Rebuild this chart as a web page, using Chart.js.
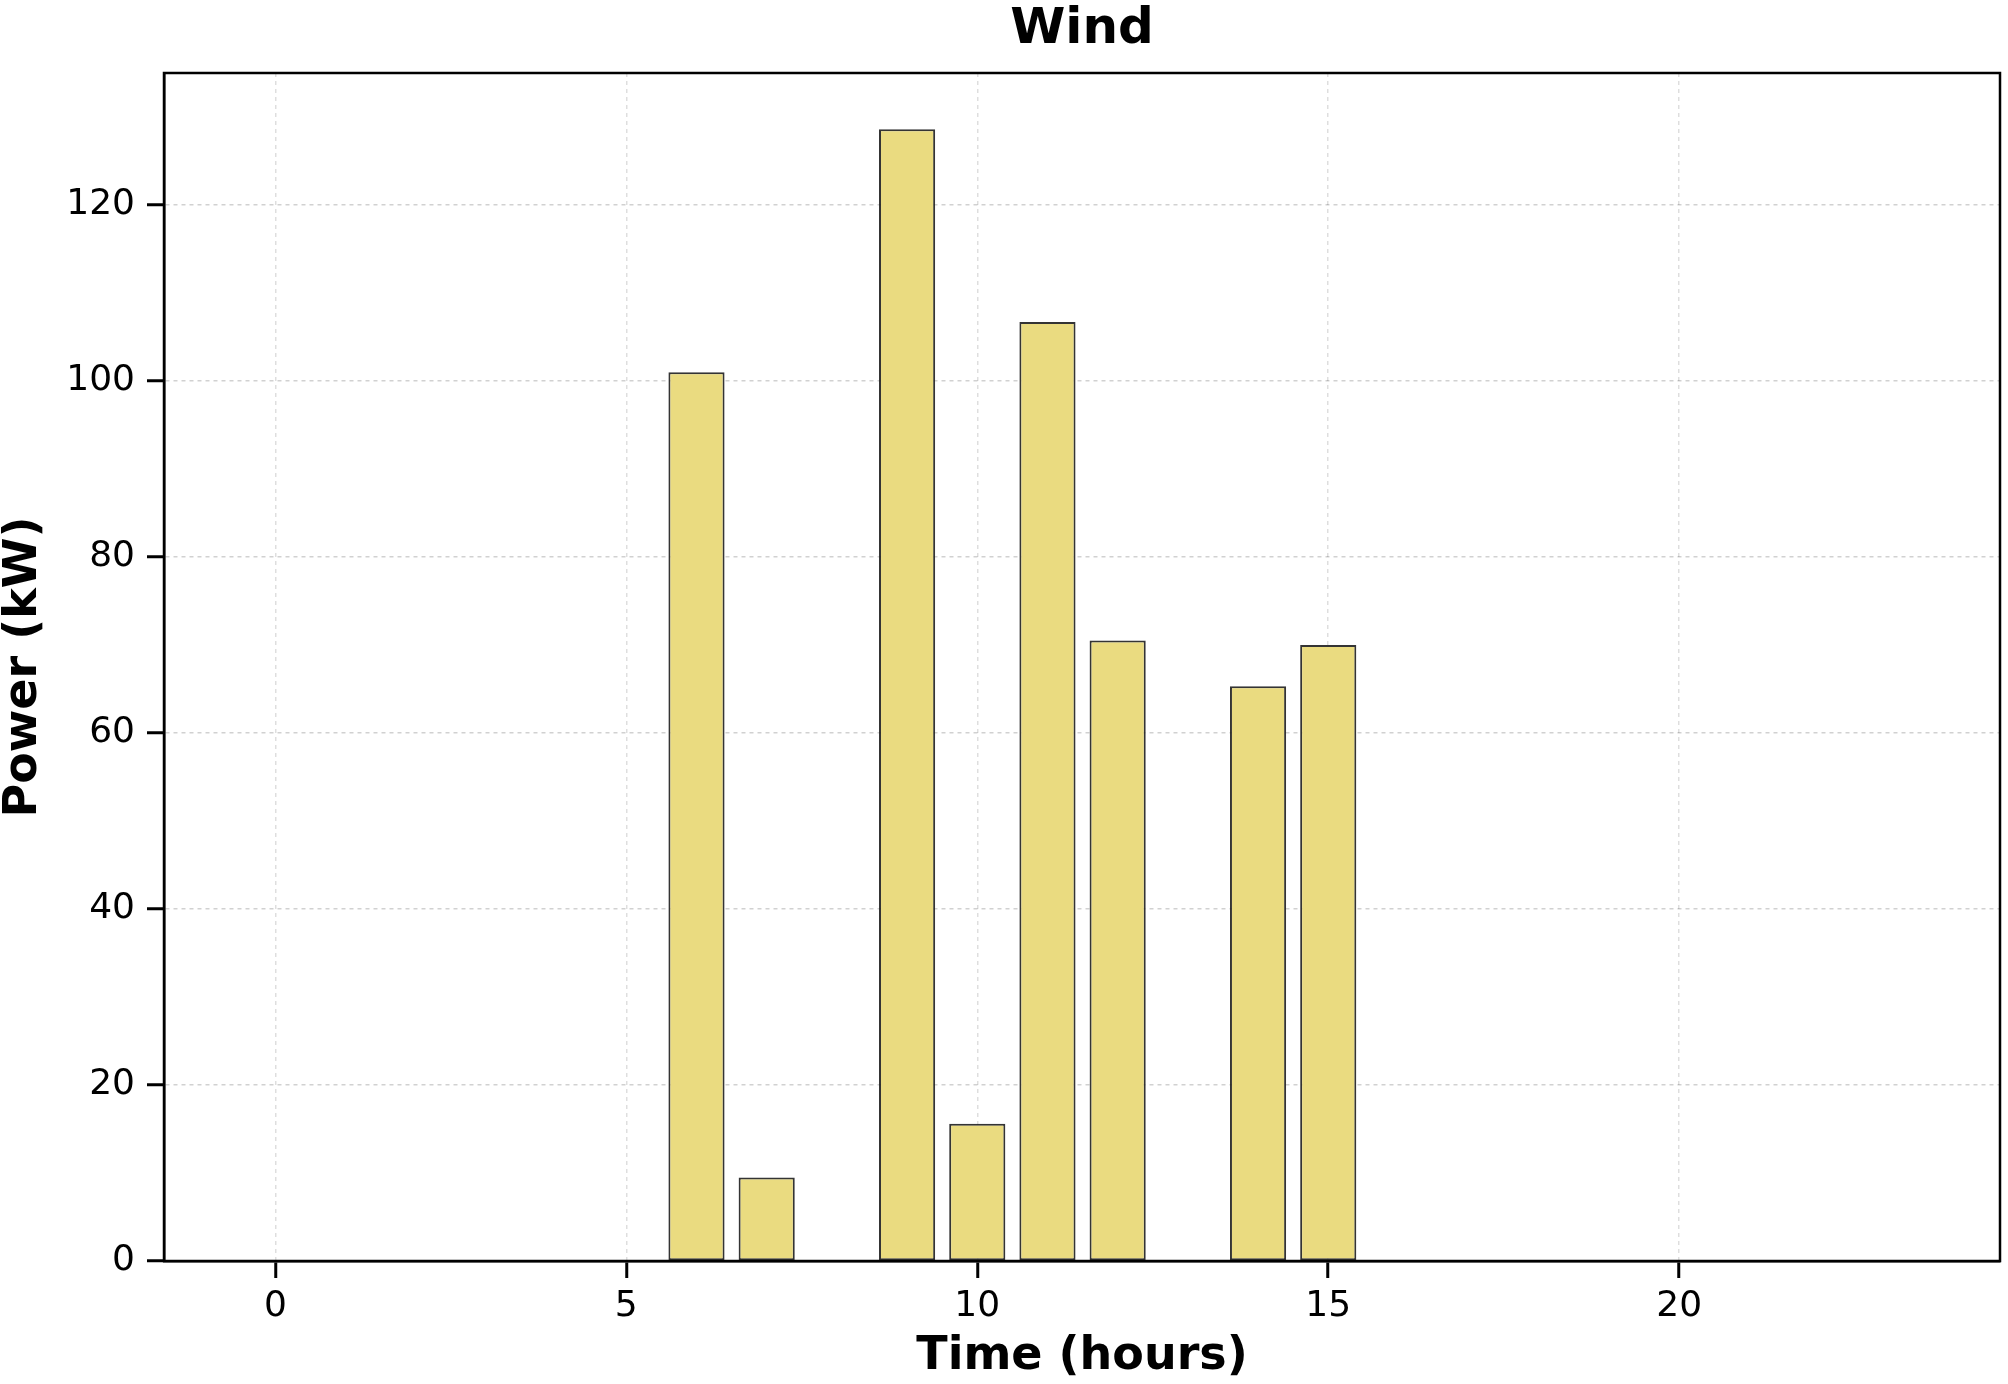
<!DOCTYPE html>
<html>
<head>
<meta charset="utf-8">
<title>Wind</title>
<script src="https://cdn.jsdelivr.net/npm/chart.js@4.4.1/dist/chart.umd.min.js"></script>
<style>
  html, body { margin: 0; padding: 0; background: #fff; }
  #wrap { width: 2008px; height: 1384px; }
</style>
</head>
<body>
<div id="wrap"><canvas id="windChart" width="2008" height="1384"></canvas></div>
<script>
// Hourly wind power (kW)
const hours = [0, 1, 2, 3, 4, 5, 6, 7, 8, 9, 10, 11, 12, 13, 14, 15, 16, 17, 18, 19, 20, 21, 22, 23];
const windPower = [0, 0, 0, 0, 0, 0, 101, 9.5, 0, 128.6, 15.6, 106.7, 70.5, 0, 65.3, 70, 0, 0, 0, 0, 0, 0, 0, 0];
const xTickValues = [0, 5, 10, 15, 20];
const yTickValues = [0, 20, 40, 60, 80, 100, 120];

const FONT = "'DejaVu Sans', 'Liberation Sans', sans-serif";

// Draw the full box around the plot area (matplotlib style frame)
const frameBox = {
    id: "frameBox",
    afterDraw(chart) {
        const { ctx, chartArea } = chart;
        ctx.save();
        ctx.strokeStyle = "#000";
        ctx.lineWidth = 2.5;
        ctx.strokeRect(chartArea.left, chartArea.top, chartArea.right - chartArea.left, chartArea.bottom - chartArea.top);
        ctx.restore();
    }
};

const ctx = document.getElementById("windChart").getContext("2d");

new Chart(ctx, {
    type: "bar",
    data: {
        datasets: [{
            label: "Wind",
            data: hours.map((h, i) => ({ x: h, y: windPower[i] })),
            backgroundColor: "#EADB80",
            borderColor: "rgba(30, 30, 30, 0.9)",
            borderWidth: 2,
            borderSkipped: false,
            barPercentage: 0.8,
            categoryPercentage: 1.0
        }]
    },
    plugins: [frameBox],
    options: {
        responsive: false,
        animation: false,
        devicePixelRatio: 1,
        layout: { padding: { left: 0, right: 8, top: 0, bottom: 0 } },
        plugins: {
            legend: { display: false },
            tooltip: { enabled: false },
            title: {
                display: true,
                fullSize: false,
                text: "Wind",
                color: "#000",
                font: { family: FONT, size: 50, weight: "bold", lineHeight: 1.0 },
                padding: { top: 5, bottom: 18 }
            }
        },
        scales: {
            x: {
                type: "linear",
                min: -1.586,
                max: 24.57,
                offset: false,
                z: 1,
                afterBuildTicks: scale => { scale.ticks = xTickValues.map(v => ({ value: v })); },
                afterFit: scale => { scale.height = 123; },
                ticks: {
                    color: "#000",
                    font: { family: FONT, size: 36 },
                    padding: 7,
                    maxRotation: 0
                },
                grid: {
                    offset: false,
                    color: "rgba(0, 0, 0, 0.13)",
                    lineWidth: 1.5,
                    tickLength: 17,
                    tickColor: "#000",
                    tickWidth: 3,
                    tickBorderDash: []
                },
                border: { display: true, color: "#000", width: 2.5, dash: [4, 4] },
                title: {
                    display: true,
                    text: "Time (hours)",
                    color: "#000",
                    font: { family: FONT, size: 46, weight: "bold", lineHeight: 1.0 },
                    padding: { top: 0, bottom: 4 }
                }
            },
            y: {
                type: "linear",
                min: 0,
                max: 135,
                z: 1,
                afterBuildTicks: scale => { scale.ticks = yTickValues.map(v => ({ value: v })); },
                afterFit: scale => { scale.width = 164; },
                ticks: {
                    color: "#000",
                    font: { family: FONT, size: 36 },
                    padding: 12
                },
                grid: {
                    color: "rgba(0, 0, 0, 0.18)",
                    lineWidth: 1.5,
                    tickLength: 17,
                    tickColor: "#000",
                    tickWidth: 3,
                    tickBorderDash: []
                },
                border: { display: true, color: "#000", width: 2.5, dash: [4, 4] },
                title: {
                    display: true,
                    text: "Power (kW)",
                    color: "#000",
                    font: { family: FONT, size: 46, weight: "bold", lineHeight: 1.0 },
                    padding: { top: 1, bottom: 0 }
                }
            }
        }
    }
});
</script>
</body>
</html>
